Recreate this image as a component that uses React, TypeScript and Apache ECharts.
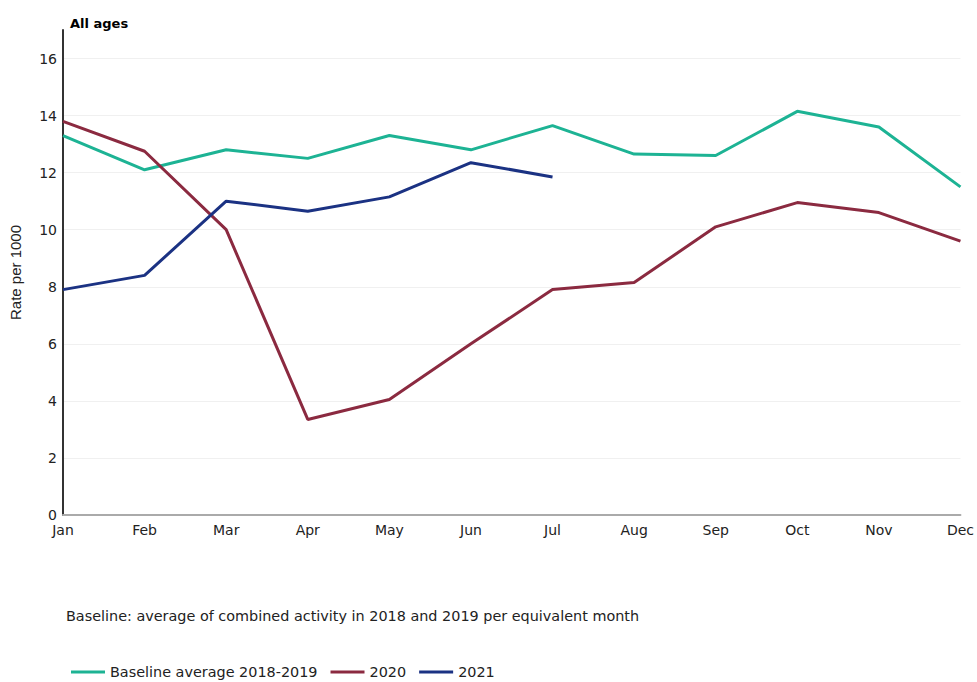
import React, { useEffect, useRef } from "react";
import * as echarts from "echarts";

const months = ["Jan", "Feb", "Mar", "Apr", "May", "Jun", "Jul", "Aug", "Sep", "Oct", "Nov", "Dec"];
const baseline = [13.3, 12.1, 12.8, 12.5, 13.3, 12.8, 13.65, 12.65, 12.6, 14.15, 13.6, 11.5];
const y2020 = [13.8, 12.75, 10.0, 3.35, 4.05, 6.0, 7.9, 8.15, 10.1, 10.95, 10.6, 9.6];
const y2021 = [7.9, 8.4, 11.0, 10.65, 11.15, 12.35, 11.85];

const wide = "DejaVu Sans, Verdana, sans-serif";
const arial = "Liberation Sans, Arial, sans-serif";

export default function App() {
  const ref = useRef<HTMLDivElement>(null);
  useEffect(() => {
    if (!ref.current) return;
    const chart = echarts.init(ref.current, undefined, { renderer: "svg" });
    chart.setOption({
      animation: false,
      textStyle: { fontFamily: wide },
      title: {
        text: "All ages",
        left: 65,
        top: 12,
        textStyle: { fontSize: 13, fontWeight: "bold", color: "#000", fontFamily: wide },
      },
      graphic: [
        {
          type: "text",
          left: 66,
          top: 609,
          style: {
            text: "Baseline: average of combined activity in 2018 and 2019 per equivalent month",
            fontSize: 14.4,
            fill: "#222",
            fontFamily: wide,
          },
        },
      ],
      legend: {
        left: 66,
        top: 660,
        itemWidth: 34,
        itemHeight: 3,
        itemGap: 13,
        icon: "rect",
        textStyle: { fontSize: 14.4, color: "#222", fontFamily: wide },
        data: ["Baseline average 2018-2019", "2020", "2021"],
      },
      grid: { left: 63, right: 14, top: 30, bottom: 167 },
      xAxis: {
        type: "category",
        data: months,
        boundaryGap: false,
        axisLine: { lineStyle: { color: "#aaa", width: 2 } },
        axisTick: { show: false },
        axisLabel: { fontSize: 14, lineHeight: 14, color: "#222", margin: 8, fontFamily: wide },
      },
      yAxis: {
        type: "value",
        min: 0,
        max: 17,
        interval: 2,
        name: "Rate per 1000",
        nameLocation: "middle",
        nameGap: 40,
        nameTextStyle: { fontSize: 15, color: "#222", fontFamily: arial },
        axisLine: { show: true, lineStyle: { color: "#333", width: 2 } },
        axisTick: { show: false },
        axisLabel: {
          fontSize: 14,
          lineHeight: 14,
          color: "#222",
          showMaxLabel: false,
          margin: 6,
          fontFamily: wide,
        },
        splitLine: { show: true, showMaxLine: false, lineStyle: { color: "#f0f0f0", width: 1 } },
      },
      series: [
        {
          name: "Baseline average 2018-2019",
          type: "line",
          data: baseline,
          symbol: "none",
          lineStyle: { width: 3, color: "#1db394" },
          itemStyle: { color: "#1db394" },
        },
        {
          name: "2020",
          type: "line",
          data: y2020,
          symbol: "none",
          lineStyle: { width: 3, color: "#8b2a40" },
          itemStyle: { color: "#8b2a40" },
        },
        {
          name: "2021",
          type: "line",
          data: y2021,
          symbol: "none",
          lineStyle: { width: 3, color: "#1b3283" },
          itemStyle: { color: "#1b3283" },
        },
      ],
    });
    return () => chart.dispose();
  }, []);
  return <div ref={ref} style={{ width: 977, height: 682, position: "absolute", left: 0, top: 0 }} />;
}
